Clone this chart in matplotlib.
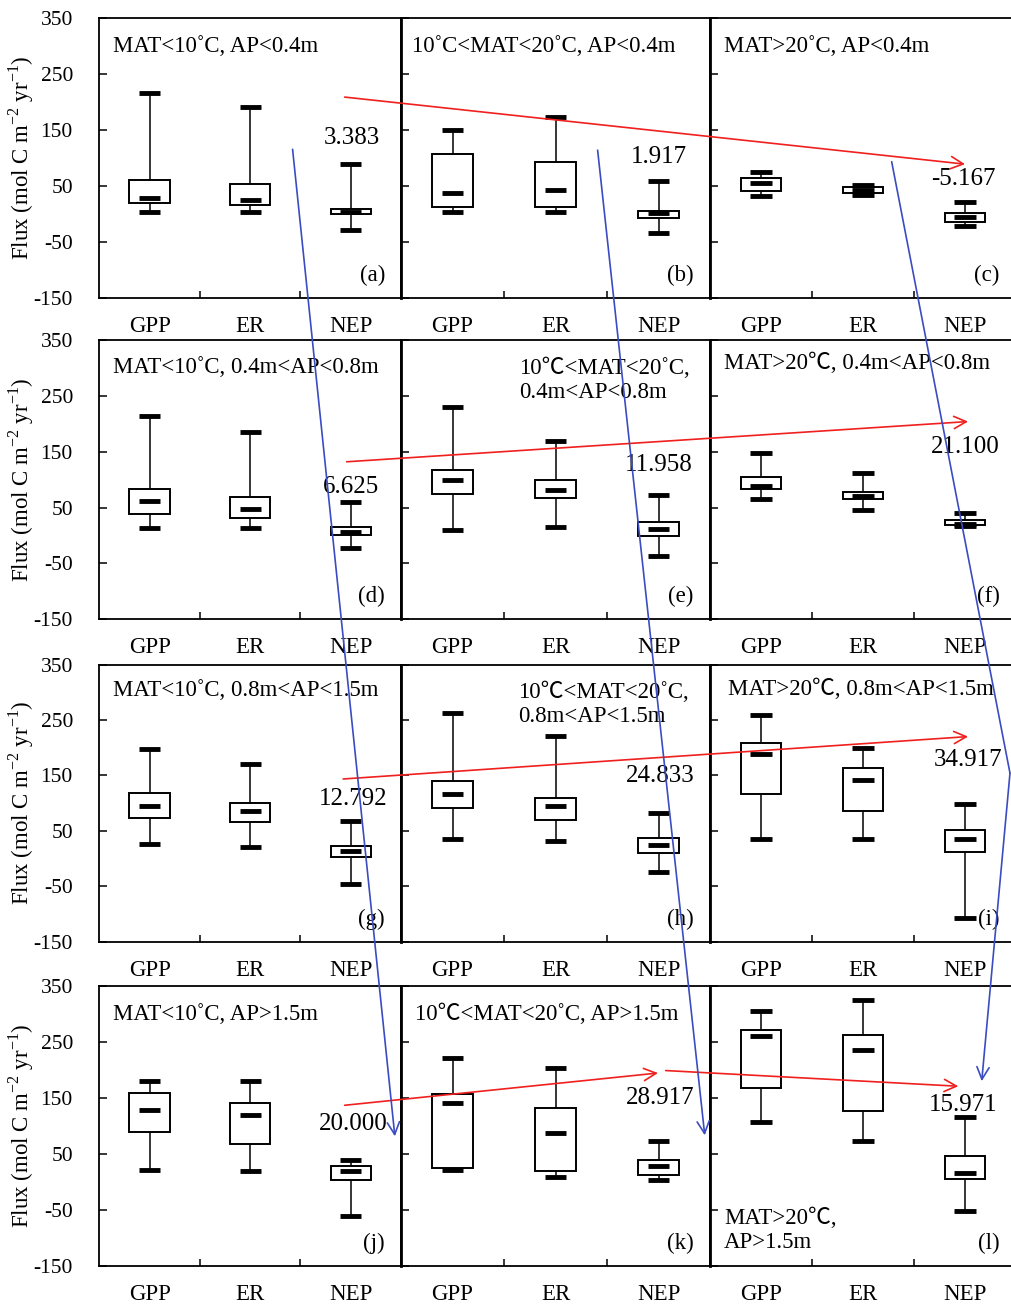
import matplotlib
matplotlib.use("Agg")
import matplotlib.pyplot as plt
from matplotlib.patches import Rectangle, ConnectionPatch

plt.rcParams['font.family'] = ['Liberation Serif', 'Noto Sans CJK SC', 'DejaVu Sans']
plt.rcParams['mathtext.fontset'] = 'custom'
plt.rcParams['mathtext.rm'] = 'Liberation Serif'
plt.rcParams['axes.unicode_minus'] = False

# ---- data: one entry per panel (a)-(l) ----
variables = ["GPP", "ER", "NEP"]
panel_letters = ["(a)", "(b)", "(c)", "(d)", "(e)", "(f)",
                 "(g)", "(h)", "(i)", "(j)", "(k)", "(l)"]
panel_titles = [
    "MAT<10˚C, AP<0.4m", "10˚C<MAT<20˚C, AP<0.4m", "MAT>20˚C, AP<0.4m",
    "MAT<10˚C, 0.4m<AP<0.8m", "10℃<MAT<20˚C,\n0.4m<AP<0.8m", "MAT>20℃, 0.4m<AP<0.8m",
    "MAT<10˚C, 0.8m<AP<1.5m", "10℃<MAT<20˚C,\n0.8m<AP<1.5m", "MAT>20℃, 0.8m<AP<1.5m",
    "MAT<10˚C, AP>1.5m", "10℃<MAT<20˚C, AP>1.5m", "MAT>20℃,\nAP>1.5m",
]

gpp_lo   = [4, 4, 32, 13, 10, 65, 27, 36, 35, 22, 21, 108]
gpp_q1   = [19, 12, 41, 38, 74, 84, 74, 92, 116, 89, 25, 167]
gpp_mean = [28, 37, 55, 61, 99, 89, 95, 116, 188, 128, 141, 260]
gpp_q3   = [60, 108, 64, 84, 117, 105, 119, 140, 209, 159, 157, 271]
gpp_hi   = [217, 151, 75, 214, 230, 148, 198, 262, 259, 181, 221, 305]

er_lo   = [4, 4, 33, 13, 16, 46, 20, 32, 36, 19, 9, 73]
er_q1   = [15, 12, 37, 31, 68, 65, 66, 69, 86, 67, 19, 126]
er_mean = [25, 43, 43, 47, 81, 71, 86, 95, 142, 119, 87, 235]
er_q3   = [53, 93, 48, 69, 99, 77, 101, 110, 163, 141, 133, 263]
er_hi   = [191, 174, 52, 186, 169, 112, 171, 221, 200, 181, 204, 325]

nep_lo   = [-28, -34, -22, -22, -37, 17, -46, -25, -107, -60, 3, -51]
nep_q1   = [0, -8, -14, 1.5, -1, 19, 3, 10, 11, 4, 12, 5]
nep_mean = [3.383, 1.917, -5.167, 6.625, 11.958, 21.100,
            12.792, 24.833, 34.917, 20.000, 28.917, 15.971]
nep_q3   = [9, 6, 2, 15, 24, 28, 23, 37, 51, 28, 39, 47]
nep_hi   = [90, 59, 22, 60, 73, 40, 68, 83, 99, 40, 73, 116]

# ---- layout (figure pixels) ----
W, H = 1011, 1307
row_top = [18.3, 340, 664.5, 986]
row_bot = [297.7, 619.3, 941.7, 1266]
col_left = [99.3, 401, 710]
col_width = [301.7, 309, 306]

# vertical position (data units) of each NEP mean label
label_y = [136, 102, 62, 87, 126, 159, 107, 148, 178, 104, 150, 138]
label_dx = [0.01, 0, -0.02, 0, 0, 0, 0.02, 0.02, 0.03, 0.03, 0.02, -0.02]
# title anchor (axes fraction)
title_xy = [(0.046, 0.9), (0.036, 0.9), (0.046, 0.9),
            (0.046, 0.9), (0.382, 0.855), (0.046, 0.915),
            (0.046, 0.905), (0.38, 0.855), (0.06, 0.91),
            (0.044, 0.9), (0.046, 0.9), (0.046, 0.128)]

fig = plt.figure(figsize=(W / 100, H / 100), dpi=100)

FS = 16.5


def draw_box(ax, x, lo, q1, mean, q3, hi):
    ax.plot([x, x], [lo, hi], color='black', lw=1.1, zorder=2)
    ax.add_patch(Rectangle((x - 0.2, q1), 0.4, q3 - q1, facecolor='white',
                           edgecolor='black', lw=1.4, zorder=3))
    for v in (lo, hi):
        ax.plot([x - 0.103, x + 0.103], [v, v], color='black', lw=3.5,
                solid_capstyle='butt', zorder=4)
    ax.plot([x - 0.103, x + 0.103], [mean, mean], color='black', lw=3.5,
            solid_capstyle='butt', zorder=5)


axes = []
for i in range(12):
    r, c = divmod(i, 3)
    left = col_left[c] / W
    bottom = 1 - row_bot[r] / H
    height = (row_bot[r] - row_top[r]) / H
    width = col_width[c] / W
    ax = fig.add_axes([left, bottom, width, height])
    axes.append(ax)

    stats = [
        (gpp_lo[i], gpp_q1[i], gpp_mean[i], gpp_q3[i], gpp_hi[i]),
        (er_lo[i], er_q1[i], er_mean[i], er_q3[i], er_hi[i]),
        (nep_lo[i], nep_q1[i], nep_mean[i], nep_q3[i], nep_hi[i]),
    ]
    for k, s in enumerate(stats):
        draw_box(ax, k, *s)

    ax.set_xlim(-0.5, 2.5)
    ax.set_ylim(-150, 350)
    ax.set_yticks(range(-150, 351, 100))
    ax.set_xticks([0, 1, 2])
    ax.set_xticklabels(variables, fontsize=FS)
    ax.set_xticks([0.5, 1.5], minor=True)
    ax.tick_params(axis='x', which='major', length=0, pad=13)
    ax.tick_params(axis='x', which='minor', direction='in', length=5, width=1.1)
    ax.tick_params(axis='y', direction='in', length=6, width=1.1, labelsize=15.5, pad=19)
    for sp in ax.spines.values():
        sp.set_linewidth(1.3)
    if c > 0:
        ax.tick_params(axis='y', labelleft=False)
        ax.spines['left'].set_linewidth(2.0)
    else:
        ax.set_ylabel(r'Flux (mol C m$^{\mathregular{-2}}$ yr$^{\mathregular{-1}}$)',
                      fontsize=FS)
        ax.yaxis.set_label_coords(-0.21, 0.5)
    if c == 2:
        ax.spines['right'].set_visible(False)

    tx, ty = title_xy[i]
    ax.text(tx, ty, panel_titles[i], transform=ax.transAxes, fontsize=FS,
            ha='left', va='center', linespacing=1.2)
    ax.text(0.947, 0.081, panel_letters[i], transform=ax.transAxes,
            fontsize=FS, ha='right', va='center')
    ax.text(2 + label_dx[i], label_y[i], f"{nep_mean[i]:.3f}", fontsize=18,
            ha='center', va='center', zorder=6)


def arrow(axA, xyA, axB, xyB, color, head=True):
    style = '->' if head else '-'
    con = ConnectionPatch(xyA=xyA, coordsA=axA.transData,
                          xyB=xyB, coordsB=axB.transData,
                          arrowstyle=style, mutation_scale=22,
                          color=color, lw=1.2, zorder=10)
    fig.add_artist(con)


RED = '#f0201e'
BLUE = '#3a4cc0'

# red arrows along each precipitation row
arrow(axes[0], (1.94, 209), axes[2], (2.0, 89), RED)
arrow(axes[3], (1.96, 132), axes[5], (2.03, 204), RED)
arrow(axes[6], (1.925, 143.5), axes[8], (2.03, 220), RED)
arrow(axes[9], (1.94, 137), axes[10], (1.995, 194.6), RED)
arrow(axes[10], (2.07, 199), axes[11], (1.934, 171), RED)

# blue arrows down each temperature column
arrow(axes[0], (1.422, 115.6), axes[9], (2.439, 81.6), BLUE)
arrow(axes[1], (1.409, 114), axes[10], (2.449, 83.4), BLUE)
arrow(axes[2], (1.281, 93.4), axes[8], (2.441, 154), BLUE, head=False)
arrow(axes[8], (2.441, 154), axes[11], (2.164, 180), BLUE)

fig.savefig("out.png", dpi=100)
